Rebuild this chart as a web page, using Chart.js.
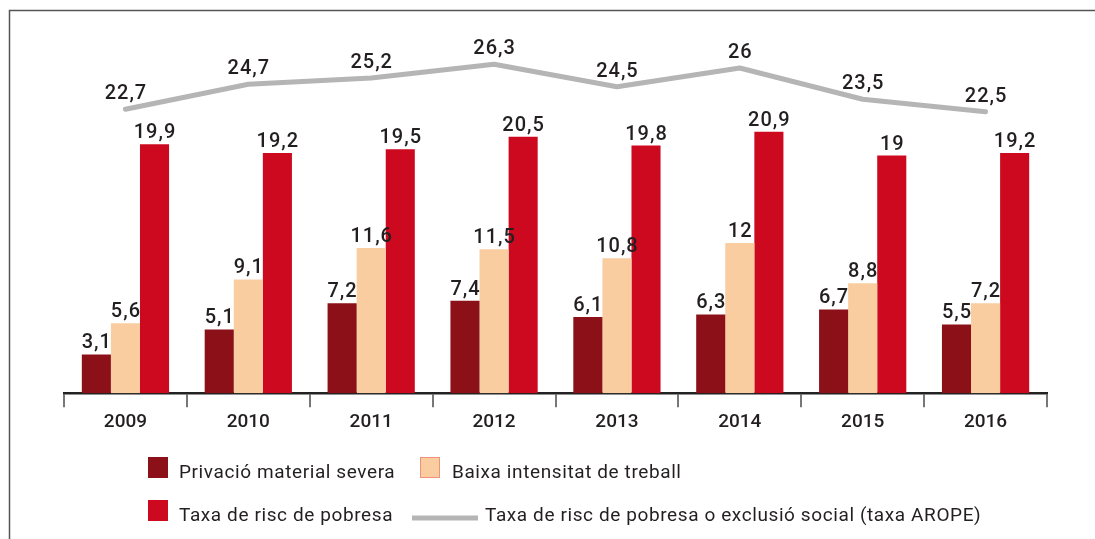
<!DOCTYPE html>
<html>
<head>
<meta charset="utf-8">
<script src="https://cdn.jsdelivr.net/npm/chart.js@4"></script>
<style>
  html, body { margin: 0; padding: 0; background: #fff; }
  #wrap { position: relative; width: 1095px; height: 539px; }
</style>
</head>
<body>
<div id="wrap"><canvas id="c" width="1095" height="539"></canvas></div>
<script>
const categories = ['2009', '2010', '2011', '2012', '2013', '2014', '2015', '2016'];
const privacio = [3.1, 5.1, 7.2, 7.4, 6.1, 6.3, 6.7, 5.5];
const baixa = [5.6, 9.1, 11.6, 11.5, 10.8, 12, 8.8, 7.2];
const taxaRisc = [19.9, 19.2, 19.5, 20.5, 19.8, 20.9, 19, 19.2];
const arope = [22.7, 24.7, 25.2, 26.3, 24.5, 26, 23.5, 22.5];
const seriesLabels = [
  'Privació material severa',
  'Baixa intensitat de treball',
  'Taxa de risc de pobresa',
  'Taxa de risc de pobresa o exclusió social (taxa AROPE)'
];

const FONT = 'Roboto, "Noto Sans", sans-serif';
const TEXT = '#231f20';
const fmt = v => String(v).replace('.', ',');

const framePlugin = {
  id: 'frame',
  beforeDraw(chart) {
    const ctx = chart.ctx;
    ctx.save();
    ctx.strokeStyle = '#555';
    ctx.lineWidth = 1.5;
    ctx.beginPath();
    ctx.moveTo(9.5, 539);
    ctx.lineTo(9.5, 10.5);
    ctx.lineTo(1095, 10.5);
    ctx.stroke();
    ctx.restore();
  }
};

const labelsPlugin = {
  id: 'valueLabels',
  afterDatasetsDraw(chart) {
    const ctx = chart.ctx;
    ctx.save();
    ctx.fillStyle = TEXT;
    ctx.font = '500 20px ' + FONT;
    ctx.letterSpacing = '1px';
    ctx.textAlign = 'center';
    ctx.textBaseline = 'alphabetic';
    chart.data.datasets.forEach((ds, i) => {
      const meta = chart.getDatasetMeta(i);
      const gap = ds.type === 'line' ? 10 : 6;
      meta.data.forEach((el, j) => {
        ctx.fillText(fmt(ds.data[j]), el.x + 0.5, el.y - gap);
      });
    });
    ctx.restore();
  }
};

const legendPlugin = {
  id: 'customLegend',
  afterDraw(chart) {
    const ctx = chart.ctx;
    const byLabel = l => chart.data.datasets.find(d => d.label === l);
    const items = [
      { l: seriesLabels[0], x: 148, tx: 179, base: 478 },
      { l: seriesLabels[1], x: 420, tx: 452, base: 478 },
      { l: seriesLabels[2], x: 148, tx: 179, base: 521 },
      { l: seriesLabels[3], x: 412, tx: 485, base: 521, line: true }
    ];
    ctx.save();
    ctx.font = '19px ' + FONT;
    ctx.letterSpacing = '0.6px';
    ctx.textBaseline = 'alphabetic';
    ctx.textAlign = 'left';
    items.forEach(it => {
      const d = byLabel(it.l);
      if (it.line) {
        ctx.strokeStyle = d.borderColor;
        ctx.lineWidth = 5;
        ctx.beginPath();
        ctx.moveTo(it.x, it.base - 3);
        ctx.lineTo(it.x + 66, it.base - 3);
        ctx.stroke();
      } else {
        ctx.fillStyle = d.backgroundColor;
        ctx.fillRect(it.x, it.base - 21, 20, 21);
        if (d.legendBorder) {
          ctx.strokeStyle = d.legendBorder;
          ctx.lineWidth = 1;
          ctx.strokeRect(it.x + 0.5, it.base - 20.5, 19, 20);
        }
      }
      ctx.fillStyle = TEXT;
      ctx.fillText(d.label, it.tx, it.base);
    });
    ctx.restore();
  }
};

new Chart(document.getElementById('c'), {
  data: {
    labels: categories,
    datasets: [
      { type: 'line', label: seriesLabels[3], data: arope, borderColor: '#b5b5b6', borderWidth: 5,
        pointRadius: 0, tension: 0, borderCapStyle: 'round', borderJoinStyle: 'round', order: 0 },
      { type: 'bar', label: seriesLabels[0], data: privacio, backgroundColor: '#8c1018', order: 1 },
      { type: 'bar', label: seriesLabels[1], data: baixa, backgroundColor: '#f9cda0', legendBorder: '#f2917a', order: 1 },
      { type: 'bar', label: seriesLabels[2], data: taxaRisc, backgroundColor: '#cd0920', order: 1 }
    ]
  },
  options: {
    responsive: false,
    animation: false,
    events: [],
    layout: { padding: { left: 64, right: 48, top: 18, bottom: 101 } },
    datasets: { bar: { categoryPercentage: 0.71, barPercentage: 1.0 } },
    plugins: { legend: { display: false }, tooltip: { enabled: false } },
    scales: {
      x: {
        offset: true,
        grid: { offset: true, drawOnChartArea: false, drawTicks: true, tickLength: 14, color: '#777', lineWidth: 2 },
        border: { display: true, color: '#222', width: 2.5 },
        ticks: { color: TEXT, font: { family: FONT, size: 19, weight: '500' }, padding: 4 }
      },
      y: { display: false, min: 0, max: 30 }
    }
  },
  plugins: [framePlugin, labelsPlugin, legendPlugin]
});
</script>
</body>
</html>
